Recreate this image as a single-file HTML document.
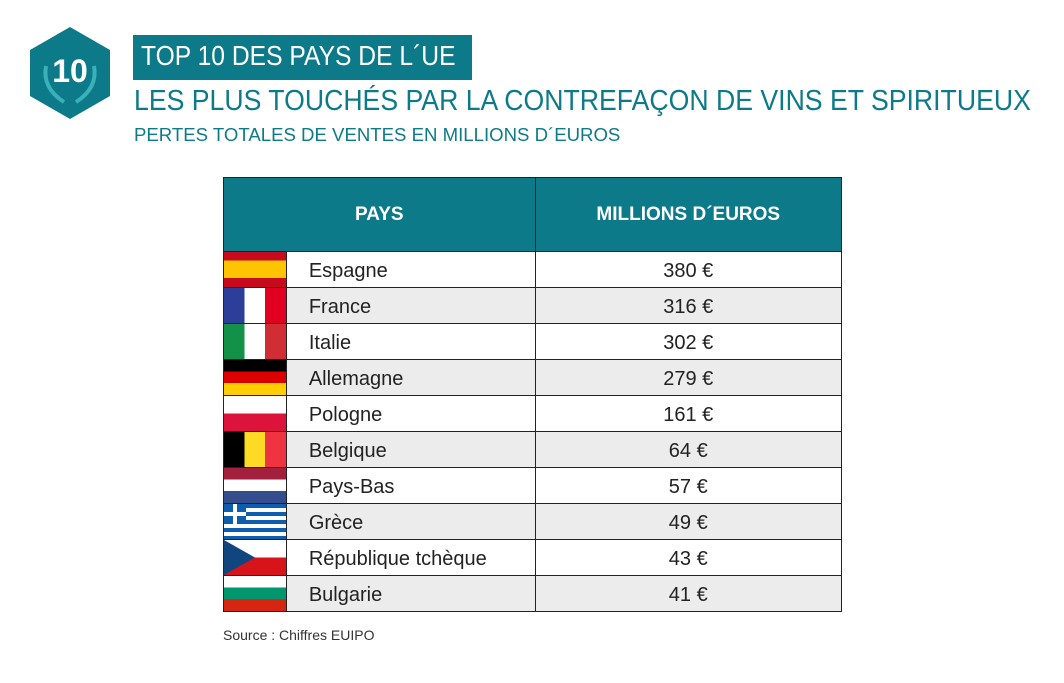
<!DOCTYPE html>
<html><head><meta charset="utf-8"><style>
body{margin:0;width:1064px;height:683px;background:#fff;font-family:"Liberation Sans",sans-serif;position:relative;overflow:hidden}
.a{position:absolute;white-space:nowrap;transform-origin:0 0}
table{position:absolute;left:223px;top:177px;border-collapse:collapse;width:619px}
td{border:1.5px solid #222;padding:3px 0 0 0;font-size:20px;color:#222}
tr{height:36px}
tr.h{height:74px}
th{background:#0d7a89;color:#fff;font-size:19px;border:1.5px solid #222;font-weight:bold}
tr.g td{background:#ececec}
.f{width:62px;position:relative;padding:0}
.f div{position:absolute;inset:0}
.n{padding-left:22px;width:226px}
.v{text-align:center;width:306px}
</style></head><body>
<svg class="a" style="left:28px;top:26px" width="84" height="94" viewBox="0 0 84 94">
<polygon points="42,1 82,24 82,70 42,93 2,70 2,24" fill="#0d7a89"/>
<path d="M18,40 Q14,62 36,76 M66,40 Q70,62 48,76" stroke="#3ab0b8" stroke-width="4" fill="none"/>
<text x="42" y="56" text-anchor="middle" font-family="Liberation Sans" font-weight="bold" font-size="32" fill="#fff">10</text>
</svg>
<div class="a" style="left:133px;top:35px;width:339px;height:45px;background:#0d7a89"></div>
<div class="a" style="left:141px;top:40px;font-size:28px;color:#fff;transform:scaleX(0.88)">TOP 10 DES PAYS DE L´UE</div>
<div class="a" style="left:134px;top:85px;font-size:28.5px;color:#0d7a89;transform:scaleX(0.935)">LES PLUS TOUCHÉS PAR LA CONTREFAÇON DE VINS ET SPIRITUEUX</div>
<div class="a" style="left:134px;top:124px;font-size:18.6px;color:#0d7a89">PERTES TOTALES DE VENTES EN MILLIONS D´EUROS</div>
<table>
<tr class="h"><th colspan="2">PAYS</th><th>MILLIONS D´EUROS</th></tr>
<tr><td class="f"><div style="background:linear-gradient(#c60b1e 25%,#ffc400 25% 75%,#c60b1e 75%)"></div></td><td class="n">Espagne</td><td class="v">380 €</td></tr>
<tr class="g"><td class="f"><div style="background:linear-gradient(90deg,#2b3e9a 33%,#fff 33% 66%,#e1001f 66%)"></div></td><td class="n">France</td><td class="v">316 €</td></tr>
<tr><td class="f"><div style="background:linear-gradient(90deg,#139149 33%,#fff 33% 66%,#d12d35 66%)"></div></td><td class="n">Italie</td><td class="v">302 €</td></tr>
<tr class="g"><td class="f"><div style="background:linear-gradient(#000 33%,#dd0000 33% 66%,#ffce00 66%)"></div></td><td class="n">Allemagne</td><td class="v">279 €</td></tr>
<tr><td class="f"><div style="background:linear-gradient(#fff 50%,#dc143c 50%)"></div></td><td class="n">Pologne</td><td class="v">161 €</td></tr>
<tr class="g"><td class="f"><div style="background:linear-gradient(90deg,#000 33%,#fdda24 33% 66%,#ef3340 66%)"></div></td><td class="n">Belgique</td><td class="v">64 €</td></tr>
<tr><td class="f"><div style="background:linear-gradient(#a21f3e 33%,#fff 33% 66%,#344d8c 66%)"></div></td><td class="n">Pays-Bas</td><td class="v">57 €</td></tr>
<tr class="g"><td class="f"><div style="background:repeating-linear-gradient(#0d5eaf 0 4px,#fff 4px 8px)"></div><div style="right:auto;bottom:auto;width:22px;height:20px;background:linear-gradient(90deg,transparent 40%,#fff 40% 60%,transparent 60%),linear-gradient(transparent 40%,#fff 40% 60%,transparent 60%),#0d5eaf"></div></td><td class="n">Grèce</td><td class="v">49 €</td></tr>
<tr><td class="f"><div style="background:linear-gradient(#fff 50%,#d7141a 50%)"></div><div style="background:#11457e;clip-path:polygon(0 0,50% 50%,0 100%)"></div></td><td class="n">République tchèque</td><td class="v">43 €</td></tr>
<tr class="g"><td class="f"><div style="background:linear-gradient(#fff 33%,#00966e 33% 66%,#d62612 66%)"></div></td><td class="n">Bulgarie</td><td class="v">41 €</td></tr>
</table>
<div class="a" style="left:223px;top:627px;font-size:14px;color:#333">Source : Chiffres EUIPO</div>
</body></html>
